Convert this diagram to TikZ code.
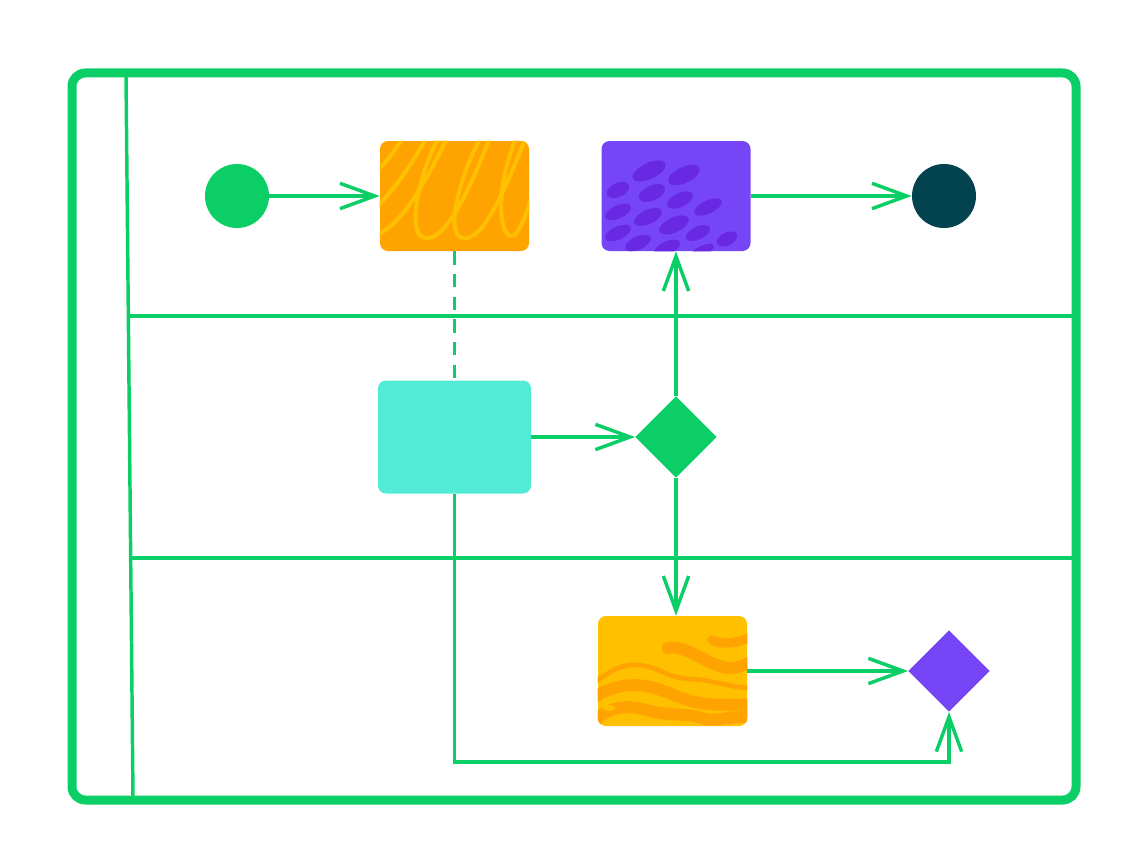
\documentclass[tikz,border=0pt]{standalone}
\usetikzlibrary{arrows.meta,shapes.geometric}
\definecolor{lgreen}{HTML}{0BCF66}
\definecolor{dteal}{HTML}{034350}
\definecolor{orng}{HTML}{FFA300}
\definecolor{ylw}{HTML}{FFC000}
\definecolor{purp}{HTML}{7645F5}
\definecolor{dpurp}{HTML}{6928E2}
\definecolor{teal}{HTML}{52EBD6}
\tikzset{
  frame/.style={draw=lgreen,line width=6.75pt,rounded corners=10pt},
  lane/.style={draw=lgreen,line width=2.6pt},
  conn/.style={draw=lgreen,line width=2.6pt},
  arr/.style={conn,-{Straight Barb[length=26pt,width=19pt,line width=2.6pt]}},
  box/.style={rectangle,rounded corners=6pt,inner sep=0pt,minimum width=111.75pt,minimum height=82.5pt},
  dot/.style={circle,inner sep=0pt,minimum size=48pt},
  dia/.style={diamond,inner sep=0pt,minimum width=61pt,minimum height=61pt},
  scribble/.style={draw=ylw,line width=3pt,line cap=round},
  wave/.style={draw=orng,line width=8pt,line cap=round},
  blob/.style={fill=dpurp},
}
\begin{document}
\begin{tikzpicture}[x=0.75pt,y=-0.75pt]
\useasboundingbox (0,0) rectangle (1145,867);
% lanes
\draw[lane] (126,76) -- (133,797);
\draw[lane] (129,316) -- (1074,316);
\draw[lane] (131,558) -- (1074,558);
\draw[frame] (72,73) rectangle (1076,800);
% nodes
\node[dot,fill=lgreen] (start) at (237,196) {};
\node[dot,fill=dteal] (end) at (944,196) {};
\node[box,fill=orng] (ob) at (454.5,196) {};
\node[box,fill=purp] (pb) at (676,196) {};
\node[box,fill=teal,minimum width=114.75pt,minimum height=84.75pt] (tb) at (454.5,437) {};
\node[box,fill=ylw] (yb) at (672.5,671) {};
\node[dia,fill=lgreen] (gd) at (676,437) {};
\node[dia,fill=purp] (pd) at (949,671) {};
% textures
\begin{scope}
\clip[rounded corners=6pt] (ob.south west) rectangle (ob.north east);
\draw[scribble] (372,212) .. controls (392,192) and (410,168) .. (428,135);
\draw[scribble] (372,236) .. controls (395,232) and (420,195) .. (450,132)
  .. controls (455,122) and (448,122) .. (440,135)
  .. controls (420,170) and (405,235) .. (425,238)
  .. controls (445,242) and (470,190) .. (492,132)
  .. controls (497,122) and (490,122) .. (482,135)
  .. controls (462,170) and (443,235) .. (463,238)
  .. controls (483,242) and (505,190) .. (528,132)
  .. controls (533,122) and (526,122) .. (518,135)
  .. controls (500,170) and (495,228) .. (510,236)
  .. controls (520,240) and (530,200) .. (545,160);
\draw[scribble] (372,175) .. controls (385,165) and (395,150) .. (405,135);
\end{scope}
\begin{scope}
\clip[rounded corners=6pt] (pb.south west) rectangle (pb.north east);
\foreach \x/\y/\a/\b in {649/171/18/8, 684/175/17/8, 618/190/12/7, 652/193/14/7.5,
  680/200/14/7, 708/207/15/6.5, 618/212/14/6.5, 648/217/15/7, 674/225/16/7.5,
  618/233/14/6.5, 698/233/13/6.5, 727/239/11/6.5, 638/243/14/6.5, 667/248/14/6.5, 702/251/13/5}
  \fill[blob,rotate around={25:(\x,\y)}] (\x,\y) ellipse [x radius=\a, y radius=\b];
\end{scope}
\begin{scope}
\clip[rounded corners=6pt] (yb.south west) rectangle (yb.north east);
\draw[wave,line width=7pt] (712,640) .. controls (725,646) and (738,642) .. (752,637);
\draw[wave,line width=9pt] (668,648) .. controls (685,645) and (700,660) .. (723,667) .. controls (735,670) and (742,665) .. (752,662);
\draw[wave,line width=3.5pt] (596,681) .. controls (610,672) and (620,664) .. (637,665) .. controls (660,666) and (665,678) .. (690,679) .. controls (715,680) and (730,688) .. (752,688);
\draw[wave,line width=9pt] (596,696) .. controls (610,688) and (625,683) .. (645,686) .. controls (665,689) and (680,700) .. (700,703) .. controls (720,706) and (735,704) .. (752,705);
\draw[wave,line width=9pt] (596,720) .. controls (608,708) and (625,703) .. (650,711) .. controls (670,716) and (690,713) .. (705,719) .. controls (720,722) and (735,714) .. (752,718);
\fill[ylw] (609,708) ellipse [x radius=6, y radius=3];
\end{scope}
% connectors
\draw[arr] (start) -- (ob);
\draw[arr] (pb) -- (end);
\draw[conn,dash pattern=on 10pt off 7pt] (ob) -- (tb);
\draw[arr] (tb) -- (gd);
\draw[arr] (gd) -- (pb);
\draw[arr] (gd.south) -- (gd.south |- yb.north);
\draw[arr] (yb.east |- pd.west) -- (pd.west);
\coordinate (c1) at (454.5,762);
\coordinate (c2) at (949,762);
\draw[arr] (tb.south) -- (c1) -- (c2) -- (pd.south);
\end{tikzpicture}
\end{document}
